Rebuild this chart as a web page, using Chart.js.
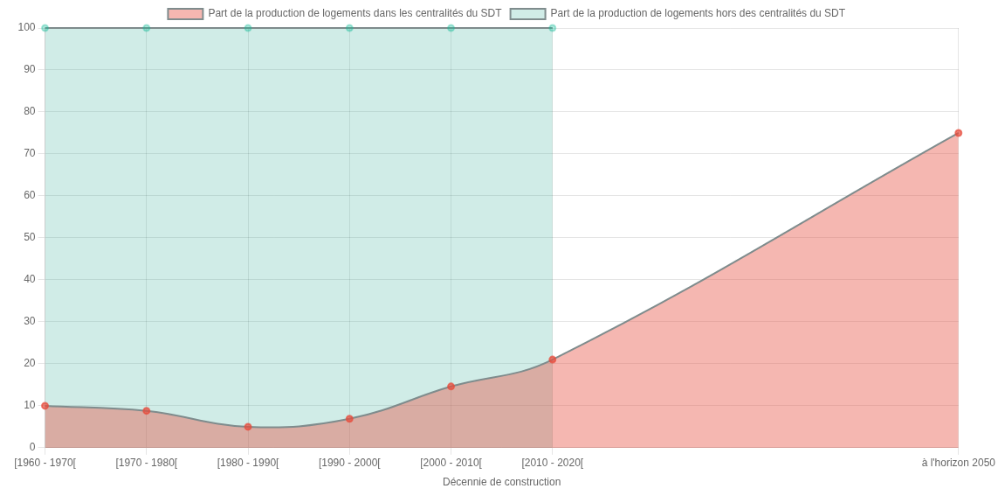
<!DOCTYPE html>
<html>
<head>
<meta charset="utf-8">
<script src="https://cdn.jsdelivr.net/npm/chart.js@4"></script>
<style>
    html, body { margin: 0; padding: 0; background: #fff; overflow: hidden; }
    #wrap { width: 1143px; height: 562.7px; transform: scale(0.8731); transform-origin: 0 0; }
</style>
</head>
<body>
<div id="wrap"><canvas id="chart"></canvas></div>
<script>
const years = [1960, 1970, 1980, 1990, 2000, 2010, 2050]
const yearLabels = ['[1960 - 1970[', '[1970 - 1980[', '[1980 - 1990[', '[1990 - 2000[', '[2000 - 2010[', '[2010 - 2020[', "à l'horizon 2050"]
const partDans = [10, 8.8, 5, 6.9, 14.6, 21, 75]
const partHors = [100, 100, 100, 100, 100, 100]

const labelDans = 'Part de la production de logements dans les centralités du SDT'
const labelHors = 'Part de la production de logements hors des centralités du SDT'

Chart.defaults.font.family = "'Liberation Sans', Arial, sans-serif"
Chart.defaults.font.size = 12
Chart.defaults.color = '#666'

const toPoints = (values) => values.map((v, i) => ({ x: years[i], y: v }))

const ctx = document.getElementById('chart').getContext('2d')
const chart = new Chart(ctx, {
    type: 'line',
    data: {
        datasets: [
            {
                label: labelDans,
                data: toPoints(partDans),
                borderColor: '#7f8c8d',
                borderWidth: 2,
                backgroundColor: 'rgba(231, 76, 60, 0.4)',
                pointBackgroundColor: 'rgba(231, 76, 60, 0.7)',
                pointBorderColor: 'rgba(231, 76, 60, 0.7)',
                pointRadius: 3.5,
                tension: 0.4,
                fill: 'origin',
                clip: false,
            },
            {
                label: labelHors,
                data: toPoints(partHors),
                borderColor: '#7f8c8d',
                borderWidth: 2,
                backgroundColor: 'rgba(22, 160, 133, 0.2)',
                pointBackgroundColor: 'rgba(26, 188, 156, 0.35)',
                pointBorderColor: 'rgba(26, 188, 156, 0.35)',
                pointRadius: 3.5,
                tension: 0.4,
                fill: 'origin',
                clip: false,
            },
        ],
    },
    options: {
        responsive: true,
        maintainAspectRatio: false,
        animation: false,
        layout: { padding: { left: 17.5 } },
        plugins: {
            legend: {
                position: 'top',
                labels: { boxWidth: 40 },
            },
            tooltip: { enabled: false },
        },
        scales: {
            x: {
                type: 'linear',
                min: 1960,
                max: 2050,
                afterBuildTicks: (axis) => {
                    axis.ticks = years.map((v) => ({ value: v }))
                },
                ticks: {
                    autoSkip: false,
                    maxRotation: 0,
                    callback: (value) => yearLabels[years.indexOf(value)],
                },
                title: {
                    display: true,
                    text: 'Décennie de construction',
                },
            },
            y: {
                min: 0,
                max: 100,
                ticks: { stepSize: 10 },
            },
        },
    },
})
</script>
</body>
</html>
